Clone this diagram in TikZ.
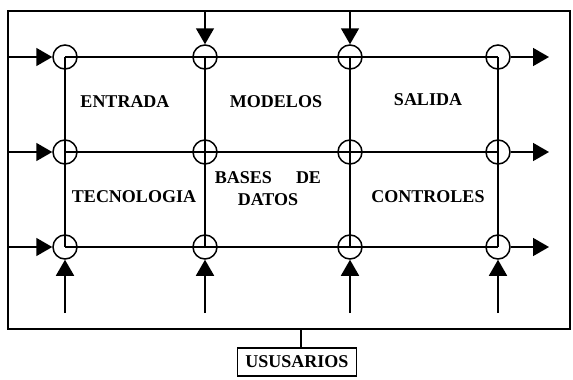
\documentclass[tikz,border=0pt]{standalone}
\usepackage{fontspec}
\setmainfont{Liberation Serif}
\usetikzlibrary{arrows.meta}
\tikzset{
  junc/.style={draw,circle,line width=1.5pt,inner sep=0pt,minimum size=24pt},
  flow/.style={line width=1.6pt,-{Triangle[length=16pt,width=18pt]}},
  lbl/.style={font=\bfseries\fontsize{18}{22}\selectfont,align=center}
}
\begin{document}
\begin{tikzpicture}[x=1pt,y=-1pt,line width=1.5pt]
    \useasboundingbox (0,0) rectangle (573,380);
    % marco
    \draw[line width=1.7pt] (8,11) rectangle (570,329);
    % nodos de la malla
    \foreach \x/\i in {65/1,205/2,350/3,498/4}
      \foreach \y/\j in {57/1,152/2,247/3}
        \node[junc] (c\i\j) at (\x,\y) {};
    \foreach \j in {1,2,3}
      \draw (c1\j.center) -- (c4\j.center);
    \foreach \i in {1,2,3,4}
      \draw (c\i1.center) -- (c\i3.center);
    % entradas y salidas
    \foreach \j in {1,2,3} {
      \coordinate (in\j) at (8,0 |- c1\j);
      \coordinate (out\j) at (549,0 |- c4\j);
      \draw[flow] (in\j) -- (c1\j);
      \draw[flow] (c4\j) -- (out\j);
    }
    \foreach \i in {2,3} {
      \coordinate (top\i) at (c\i1 |- 0,12);
      \draw[flow] (top\i) -- (c\i1);
    }
    \foreach \i in {1,2,3,4} {
      \coordinate (bot\i) at (c\i3 |- 0,313);
      \draw[flow] (bot\i) -- (c\i3);
    }
    % textos
    \node[lbl] (entrada) at (125,102) {ENTRADA};
    \node[lbl] (modelos) at (276,102) {MODELOS};
    \node[lbl] (salida) at (428,100) {SALIDA};
    \node[lbl] (tecno) at (134,197) {TECNOLOGIA};
    \node[lbl] (bases) at (268,189) {BASES\hspace{24pt}DE\\DATOS};
    \node[lbl] (control) at (428,197) {CONTROLES};
    % usuarios
    \node[lbl,draw,line width=1.5pt,minimum width=119pt,minimum height=28pt] (usu) at (297,362) {USUSARIOS};
    \coordinate (tap) at (301,329);
    \draw (tap) -- (tap |- usu.north);
\end{tikzpicture}
\end{document}
